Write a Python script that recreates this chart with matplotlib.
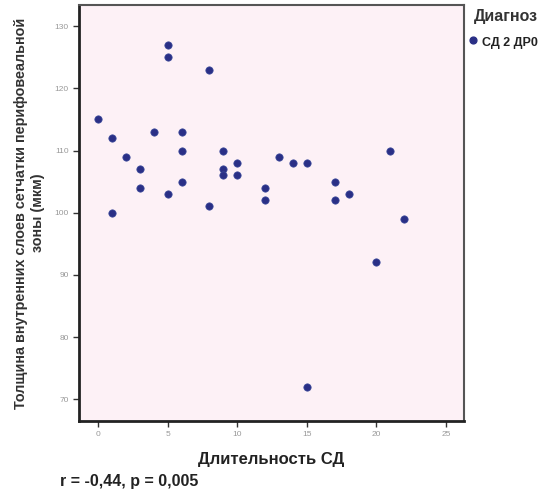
import matplotlib
matplotlib.use("Agg")
import matplotlib.pyplot as plt

plt.rcParams['font.family'] = ['Liberation Sans', 'DejaVu Sans']

# duration of diabetes (years) and inner retinal layer thickness (um)
duration = [0, 1, 1, 2, 3, 3, 4, 5, 5, 5, 6, 6, 6, 8, 8, 9, 9, 9, 10, 10,
            12, 12, 13, 14, 15, 15, 17, 17, 18, 20, 21, 22]
thickness = [115, 112, 100, 109, 107, 104, 113, 127, 125, 103, 113, 110, 105, 123, 101, 110, 107, 106, 108, 106,
             104, 102, 109, 108, 108, 72, 105, 102, 103, 92, 110, 99]
xticks = [0, 5, 10, 15, 20, 25]
yticks = [70, 80, 90, 100, 110, 120, 130]

fig = plt.figure(figsize=(5.52, 4.91), dpi=100)
ax = fig.add_axes([0.1431, 0.1426, 0.6975, 0.8472])
ax.set_facecolor('#fdf1f6')

ax.scatter(duration, thickness, s=28, color='#2a2f86', edgecolors='#3a4a9a',
           linewidths=0.5, zorder=3)

ax.set_xlim(-1.37, 26.3)
ax.set_ylim(66.5, 133.4)
ax.set_xticks(xticks)
ax.set_yticks(yticks)
ax.tick_params(labelsize=6, labelcolor='#999999', color='#333333', length=4, width=1)

for side in ['left', 'bottom']:
    ax.spines[side].set_linewidth(2.0)
    ax.spines[side].set_color('#222222')
for side in ['top', 'right']:
    ax.spines[side].set_linewidth(1.5)
    ax.spines[side].set_color('#555555')

ax.set_xlabel("Длительность СД", fontsize=12, fontweight='bold', color='#222222', labelpad=10)
ax.set_ylabel("Толщина внутренних слоев сетчатки перифовеальной\nзоны (мкм)",
              fontsize=10.4, fontweight='bold', color='#333333', labelpad=10,
              linespacing=1.25)
ax.yaxis.set_label_coords(-0.088, 0.5)

fig.text(0.109, 0.010, "r = -0,44, p = 0,005", fontsize=11.5, fontweight='bold', color='#222222')

# legend
fig.text(0.859, 0.958, "Диагноз", fontsize=11.5, fontweight='bold', color='#333333')
ax.scatter([0.856], [0.918], s=24, color='#2a2f86', transform=fig.transFigure, clip_on=False)
fig.text(0.874, 0.907, "СД 2 ДР0", fontsize=9, fontweight='bold', color='#222222')

fig.savefig("out.png", dpi=100)
